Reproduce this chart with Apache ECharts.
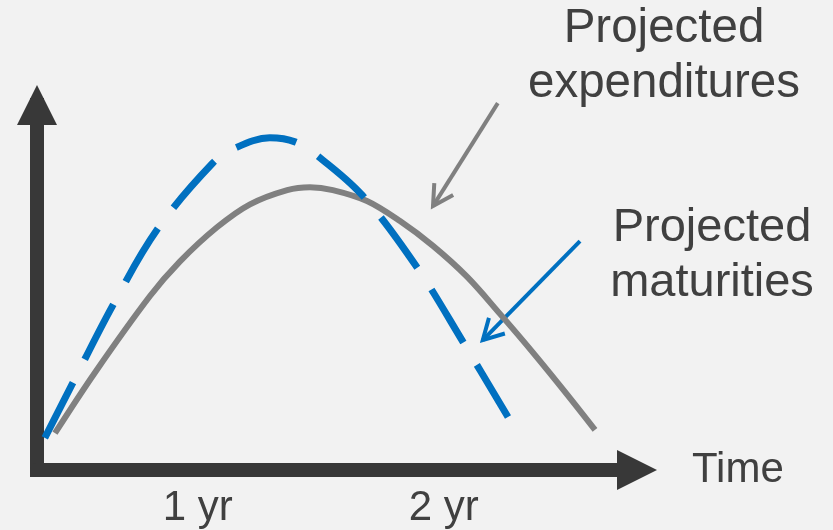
<!DOCTYPE html>
<html>
<head>
<meta charset="utf-8">
<script src="https://cdn.jsdelivr.net/npm/echarts@6/dist/echarts.min.js"></script>
<style>
  html, body { margin: 0; padding: 0; background: #f2f2f2; }
  #chart { width: 833px; height: 530px; }
</style>
</head>
<body>
<div id="chart"></div>
<script>
// Time runs along x in generic units (0-100 across the axis); amount on y (0-100).
const expenditures = [
  [3.0, 10.1], [9.7, 26.8], [18.8, 47.6], [23.8, 57.1], [30.0, 66.5], [35.5, 72.8],
  [41.7, 76.7], [45.5, 77.5], [49.3, 76.7], [55.0, 73.7], [60.5, 68.2], [66.0, 61.4],
  [71.7, 52.9], [77.2, 42.7], [82.7, 32.1], [88.3, 20.8], [93.0, 11.0]
];
const maturities = [
  [1.3, 8.8], [5.8, 23.3], [12.5, 44.7], [20.0, 65.8], [29.3, 84.1], [33.0, 88.2],
  [38.8, 91.0], [43.0, 89.9], [46.8, 86.0], [54.2, 75.3], [63.3, 55.6], [71.0, 35.1],
  [78.5, 14.5]
];
const timeTickValues = [26.8, 67.8];
const timeTickLabels = ['1 yr', '2 yr'];
// Callout arrows: [fromX, fromY, toX, toY]
const expenditureArrow = [76.8, 100.5, 66.0, 72.3];
const maturityArrow = [90.5, 62.7, 74.3, 35.6];

const GRAY = '#808080';
const BLUE = '#0070c0';
const AXIS = '#383838';
const TEXT = '#404040';
const FONT = '"Liberation Sans", Arial, Helvetica, sans-serif';

// Straight shaft with an open chevron head at the target point.
function arrowRenderer(color) {
  return function (params, api) {
    const p0 = api.coord([api.value(0), api.value(1)]);
    const p1 = api.coord([api.value(2), api.value(3)]);
    const ang = Math.atan2(p0[1] - p1[1], p0[0] - p1[0]);
    const len = 23, spread = 29 * Math.PI / 180;
    const a1 = [p1[0] + len * Math.cos(ang - spread), p1[1] + len * Math.sin(ang - spread)];
    const a2 = [p1[0] + len * Math.cos(ang + spread), p1[1] + len * Math.sin(ang + spread)];
    return {
      type: 'group',
      children: [
        { type: 'line', shape: { x1: p0[0], y1: p0[1], x2: p1[0], y2: p1[1] },
          style: { stroke: color, lineWidth: 4 } },
        { type: 'polyline', shape: { points: [a1, p1, a2] },
          style: { stroke: color, lineWidth: 4, fill: null, lineJoin: 'miter' } }
      ]
    };
  };
}

const chart = echarts.init(document.getElementById('chart'), null, { renderer: 'canvas' });
chart.setOption({
  animation: false,
  backgroundColor: '#f2f2f2',
  grid: { left: 37, right: 196, top: 105, bottom: 60 },
  xAxis: {
    type: 'value', min: 0, max: 100,
    splitLine: { show: false },
    axisTick: { show: false },
    axisLine: {
      show: true, onZero: false,
      symbol: ['none', 'triangle'], symbolSize: [40, 40],
      lineStyle: { color: AXIS, width: 14 }
    },
    axisLabel: {
      customValues: timeTickValues,
      formatter: function (v) {
        const i = timeTickValues.indexOf(v);
        return i >= 0 ? timeTickLabels[i] : '';
      },
      margin: 17, fontSize: 42, fontFamily: FONT, color: TEXT
    },
    name: 'Time', nameLocation: 'end', nameGap: 55,
    nameTextStyle: { fontSize: 42, fontFamily: FONT, color: TEXT, verticalAlign: 'middle', align: 'left' }
  },
  yAxis: {
    type: 'value', min: 0, max: 100,
    splitLine: { show: false },
    axisTick: { show: false },
    axisLabel: { show: false },
    axisLine: {
      show: true, onZero: false,
      symbol: ['none', 'triangle'], symbolSize: [40, 40],
      lineStyle: { color: AXIS, width: 14, cap: 'square' }
    }
  },
  series: [
    {
      name: 'Projected expenditures', type: 'line', data: expenditures,
      smooth: 0.35, showSymbol: false, silent: true,
      lineStyle: { color: GRAY, width: 6 }
    },
    {
      name: 'Projected maturities', type: 'line', data: maturities,
      smooth: 0.35, showSymbol: false, silent: true,
      lineStyle: { color: BLUE, width: 7, type: [62, 26] }
    },
    {
      type: 'custom', coordinateSystem: 'cartesian2d', silent: true, clip: false,
      encode: { x: [0, 2], y: [1, 3] },
      data: [expenditureArrow],
      renderItem: arrowRenderer(GRAY)
    },
    {
      type: 'custom', coordinateSystem: 'cartesian2d', silent: true, clip: false,
      encode: { x: [0, 2], y: [1, 3] },
      data: [maturityArrow],
      renderItem: arrowRenderer(BLUE)
    }
  ],
  graphic: [
    {
      type: 'text', x: 664, y: 56, silent: true,
      style: { text: 'Projected\nexpenditures', font: '47.5px ' + FONT, fill: TEXT,
               align: 'center', verticalAlign: 'middle', lineHeight: 55 }
    },
    {
      type: 'text', x: 712, y: 256, silent: true,
      style: { text: 'Projected\nmaturities', font: '47px ' + FONT, fill: TEXT,
               align: 'center', verticalAlign: 'middle', lineHeight: 55 }
    }
  ]
});
</script>
</body>
</html>
